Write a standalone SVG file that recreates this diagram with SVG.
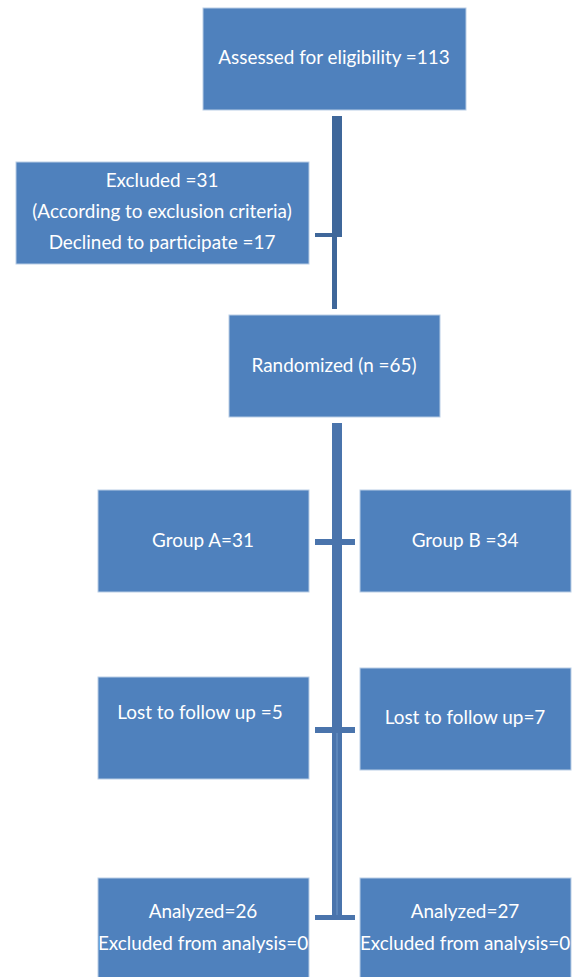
<svg xmlns="http://www.w3.org/2000/svg" width="578" height="977" viewBox="0 0 578 977">
<style>
.box{fill:#4F81BD;stroke:#B9CDE5;stroke-width:1}
.t{font-family:Lato,"Open Sans","Liberation Sans",sans-serif;font-size:18.9px;fill:#FFFFFF;text-anchor:middle}
.c{fill:#4A74AC}
.c2{fill:#3F679A}
</style>
<rect width="578" height="977" fill="#FFFFFF"/>
<g id="connectors">
<rect class="c2" x="332" y="116" width="10" height="121"/>
<rect class="c2" x="315" y="233" width="27" height="4"/>
<rect class="c2" x="332" y="237" width="5" height="72"/>
<rect class="c" x="332" y="423" width="10" height="494"/>
<line x1="337" y1="733" x2="337" y2="917" stroke="#6F97C8" stroke-width="1"/>
<rect class="c" x="315" y="539" width="40" height="6"/>
<rect class="c" x="315" y="727" width="40" height="6"/>
<rect class="c" x="315" y="915" width="40" height="5"/>
</g>
<g id="assessed">
<rect class="box" x="203" y="8" width="263" height="102"/>
<text class="t" x="334" y="64">Assessed for eligibility =113</text>
</g>
<g id="excluded">
<rect class="box" x="16" y="162" width="293" height="102"/>
<text class="t" x="162" y="187">Excluded =31</text>
<text class="t" x="162" y="218">(According to exclusion criteria)</text>
<text class="t" x="162" y="249">Declined to participate =17</text>
</g>
<g id="randomized">
<rect class="box" x="229" y="315" width="211" height="102"/>
<text class="t" x="334" y="372">Randomized (n =65)</text>
</g>
<g id="groupA">
<rect class="box" x="98" y="490" width="211" height="102"/>
<text class="t" x="203" y="547">Group A=31</text>
</g>
<g id="groupB">
<rect class="box" x="360" y="490" width="211" height="102"/>
<text class="t" x="465" y="547">Group B =34</text>
</g>
<g id="lostA">
<rect class="box" x="98" y="677" width="211" height="102"/>
<text class="t" x="200" y="719">Lost to follow up =5</text>
</g>
<g id="lostB">
<rect class="box" x="360" y="668" width="211" height="102"/>
<text class="t" x="465" y="724">Lost to follow up=7</text>
</g>
<g id="analyzedA">
<rect class="box" x="98" y="878" width="211" height="102"/>
<text class="t" x="203" y="918">Analyzed=26</text>
<text class="t" x="203" y="950">Excluded from analysis=0</text>
</g>
<g id="analyzedB">
<rect class="box" x="360" y="878" width="211" height="102"/>
<text class="t" x="465" y="918">Analyzed=27</text>
<text class="t" x="465" y="950">Excluded from analysis=0</text>
</g>
</svg>
